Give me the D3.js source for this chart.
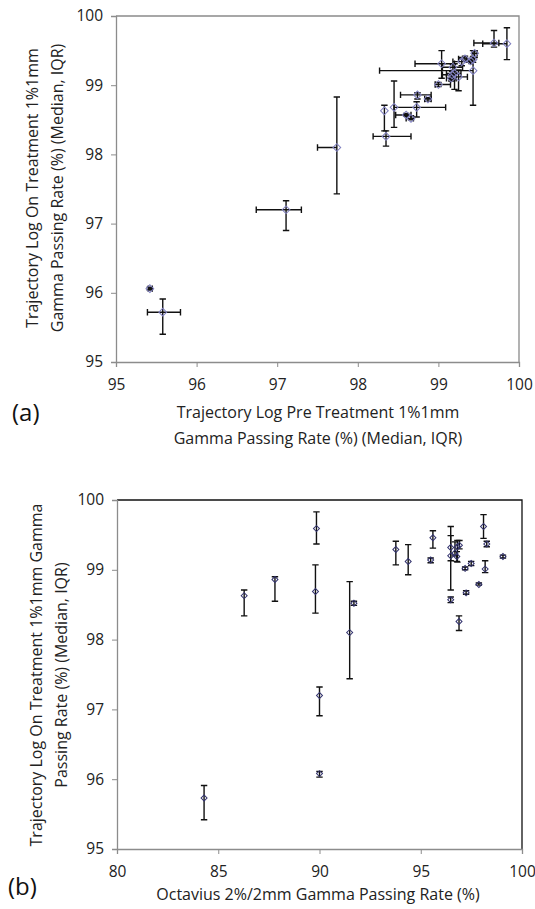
<!DOCTYPE html>
<html>
<head>
<meta charset="utf-8">
<title>Gamma passing rates</title>
<style>
	body { margin: 0; background: #fff; }
	svg { display: block; font-family: "Open Sans", sans-serif; }
</style>
</head>
<body>
<script src="https://d3js.org/d3.v7.min.js"></script>
<script>

// (a) pre-treatment vs on-treatment trajectory log, median with IQR
var aX    = [95.58, 95.42, 97.11, 97.74, 98.35, 98.33, 98.45, 98.73, 98.60, 98.66, 98.74, 98.87, 99.00, 99.04, 99.43, 99.17, 99.20, 99.25, 99.16, 99.18, 99.29, 99.33, 99.43, 99.45, 99.69, 99.85, 99.40];
var aY    = [95.72, 96.06, 97.20, 98.10, 98.26, 98.63, 98.68, 98.68, 98.57, 98.52, 98.86, 98.80, 99.01, 99.31, 99.21, 99.15, 99.17, 99.12, 99.10, 99.26, 99.34, 99.38, 99.37, 99.46, 99.61, 99.60, 99.35];
var aXLo  = [95.39, 95.40, 96.74, 97.50, 98.19, 98.33, 98.45, 98.45, 98.47, 98.60, 98.53, 98.83, 98.96, 98.71, 98.27, 99.05, 99.10, 99.15, 99.10, 99.05, 99.18, 99.25, 99.35, 99.42, 99.44, 99.55, 99.38];
var aXHi  = [95.80, 95.45, 97.30, 97.74, 98.66, 98.33, 98.45, 99.09, 98.66, 98.69, 98.91, 98.91, 99.15, 99.20, 99.43, 99.22, 99.28, 99.36, 99.22, 99.30, 99.40, 99.40, 99.45, 99.48, 99.75, 99.85, 99.42];
var aYLo  = [95.40, 96.04, 96.90, 97.43, 98.12, 98.34, 98.39, 98.54, 98.55, 98.50, 98.80, 98.77, 98.98, 99.10, 98.71, 99.08, 98.94, 98.92, 99.06, 99.20, 99.28, 99.35, 99.33, 99.40, 99.55, 99.37, 99.33];
var aYHi  = [95.91, 96.08, 97.33, 98.83, 98.34, 98.71, 99.06, 98.76, 98.59, 98.56, 98.89, 98.82, 99.04, 99.50, 99.50, 99.20, 99.31, 99.22, 99.14, 99.30, 99.40, 99.42, 99.41, 99.50, 99.79, 99.83, 99.37];

// (b) Octavius vs on-treatment trajectory log
var bX    = [84.30, 86.28, 87.80, 89.85, 89.80, 90.00, 90.00, 91.49, 91.70, 93.77, 94.38, 95.60, 95.49, 96.48, 96.48, 96.69, 96.81, 96.91, 96.78, 96.48, 96.89, 97.19, 97.49, 97.24, 97.87, 98.10, 98.26, 98.18, 99.06];
var bY    = [95.73, 98.63, 98.86, 99.59, 98.69, 97.20, 96.08, 98.10, 98.52, 99.29, 99.12, 99.46, 99.14, 99.32, 99.20, 99.24, 99.33, 99.35, 99.19, 98.57, 98.26, 99.02, 99.09, 98.67, 98.79, 99.62, 99.37, 99.01, 99.19];
var bYLo  = [95.42, 98.34, 98.55, 99.37, 98.38, 96.91, 96.03, 97.44, 98.49, 99.07, 98.93, 99.31, 99.10, 99.13, 98.71, 99.20, 99.11, 99.30, 99.12, 98.53, 98.13, 99.00, 99.06, 98.65, 98.78, 99.45, 99.33, 98.96, 99.17];
var bYHi  = [95.91, 98.71, 98.90, 99.83, 99.07, 97.32, 96.11, 98.83, 98.55, 99.41, 99.36, 99.56, 99.17, 99.62, 99.49, 99.40, 99.42, 99.42, 99.26, 98.61, 98.34, 99.04, 99.12, 98.70, 98.81, 99.79, 99.41, 99.13, 99.21];

var aTicksX = [95, 96, 97, 98, 99, 100];
var bTicksX = [80, 85, 90, 95, 100];
var yTicks  = [95, 96, 97, 98, 99, 100];

var width = 535, height = 909;

var svg = d3.select("body").append("svg")
	.attr("width", width)
	.attr("height", height);

var diamond = d3.symbol().type(d3.symbolSquare);

function drawPanel(opt) {
	var x = d3.scaleLinear().domain(opt.xDomain).range([opt.left, opt.right]);
	var y = d3.scaleLinear().domain([95, 100]).range([opt.bottom, opt.top]);
	var g = svg.append("g");

	// frame (top/right)
	g.append("path")
		.attr("d", "M" + opt.left + "," + opt.top + "H" + opt.right + "V" + opt.bottom)
		.attr("fill", "none")
		.attr("stroke", opt.frame)
		.attr("stroke-width", 1.3);

	var xAxis = g.append("g")
		.attr("transform", "translate(0," + opt.bottom + ")")
		.call(d3.axisBottom(x).tickValues(opt.xTicks).tickSize(5).tickPadding(12).tickFormat(d3.format("d")));
	var yAxis = g.append("g")
		.attr("transform", "translate(" + opt.left + ",0)")
		.call(d3.axisLeft(y).tickValues(yTicks).tickSize(5).tickPadding(8).tickFormat(d3.format("d")));

	[xAxis, yAxis].forEach(function(ax) {
		ax.select(".domain").attr("stroke", "#8c8c8c").attr("stroke-width", 1.3);
		ax.selectAll(".tick line").attr("stroke", "#8c8c8c");
		ax.selectAll("text").attr("font-family", "Open Sans, sans-serif").attr("font-size", 15.5).attr("fill", "#222");
	});

	var pts = opt.xs.map(function(d, i) {
		return { x: d, y: opt.ys[i], xlo: opt.xlo ? opt.xlo[i] : d, xhi: opt.xhi ? opt.xhi[i] : d, ylo: opt.ylo[i], yhi: opt.yhi[i] };
	});

	var bars = g.append("g").attr("stroke", "#111").attr("stroke-width", 1.4).attr("fill", "none");
	var cap = 3.2;
	pts.forEach(function(p) {
		var cx = x(p.x), cy = y(p.y);
		var path = "M" + cx + "," + y(p.ylo) + "V" + y(p.yhi) +
			"M" + (cx - cap) + "," + y(p.ylo) + "h" + (2 * cap) +
			"M" + (cx - cap) + "," + y(p.yhi) + "h" + (2 * cap);
		if (p.xlo !== p.xhi) {
			path += "M" + x(p.xlo) + "," + cy + "H" + x(p.xhi) +
				"M" + x(p.xlo) + "," + (cy - cap) + "v" + (2 * cap) +
				"M" + x(p.xhi) + "," + (cy - cap) + "v" + (2 * cap);
		}
		bars.append("path").attr("d", path);
	});

	g.append("g")
		.selectAll("path")
		.data(pts)
		.join("path")
			.attr("d", diamond.size(opt.markerSize))
			.attr("transform", function(d) { return "translate(" + x(d.x) + "," + y(d.y) + ") rotate(45)"; })
			.attr("fill", "none")
			.attr("stroke", opt.marker)
			.attr("stroke-width", 1);

	// axis titles
	var yt = g.append("text")
		.attr("transform", "translate(" + opt.yTitleX + "," + opt.yTitleY + ") rotate(-90)")
		.attr("text-anchor", "middle")
		.attr("font-size", opt.titleSize)
		.attr("fill", "#222");
	opt.yTitle.forEach(function(t, i) {
		yt.append("tspan").attr("x", 0).attr("dy", i === 0 ? 0 : opt.yTitleGap).text(t);
	});

	opt.xTitle.forEach(function(t, i) {
		g.append("text")
			.attr("x", opt.xTitleX)
			.attr("y", opt.xTitleY + i * 26)
			.attr("text-anchor", "middle")
			.attr("font-size", opt.titleSize)
			.attr("fill", "#222")
			.text(t);
	});

	g.append("text")
		.attr("x", opt.tagX)
		.attr("y", opt.tagY)
		.attr("font-size", 24)
		.attr("fill", "#111")
		.text(opt.tag);
}

drawPanel({
	xDomain: [95, 100], left: 116, right: 519, top: 16, bottom: 362,
	xTicks: aTicksX, frame: "#8a8a8a",
	xs: aX, ys: aY, xlo: aXLo, xhi: aXHi, ylo: aYLo, yhi: aYHi,
	marker: "#8080c0", markerSize: 30,
	yTitle: ["Trajectory Log On Treatment 1%1mm", "Gamma Passing Rate (%) (Median, IQR)"],
	yTitleX: 38, yTitleY: 188, yTitleGap: 25,
	xTitle: ["Trajectory Log Pre Treatment 1%1mm", "Gamma Passing Rate (%) (Median, IQR)"],
	xTitleX: 318, xTitleY: 418, titleSize: 16,
	tag: "(a)", tagX: 12, tagY: 421
});

drawPanel({
	xDomain: [80, 100], left: 117, right: 522, top: 500, bottom: 849,
	xTicks: bTicksX, frame: "#111",
	xs: bX, ys: bY, ylo: bYLo, yhi: bYHi,
	marker: "#33336e", markerSize: 18,
	yTitle: ["Trajectory Log On Treatment 1%1mm Gamma", "Passing Rate (%) (Median, IQR)"],
	yTitleX: 42, yTitleY: 675, yTitleGap: 25,
	xTitle: ["Octavius 2%/2mm Gamma Passing Rate (%)"],
	xTitleX: 318, xTitleY: 900, titleSize: 16,
	tag: "(b)", tagX: 8, tagY: 895
});

</script>
</body>
</html>
